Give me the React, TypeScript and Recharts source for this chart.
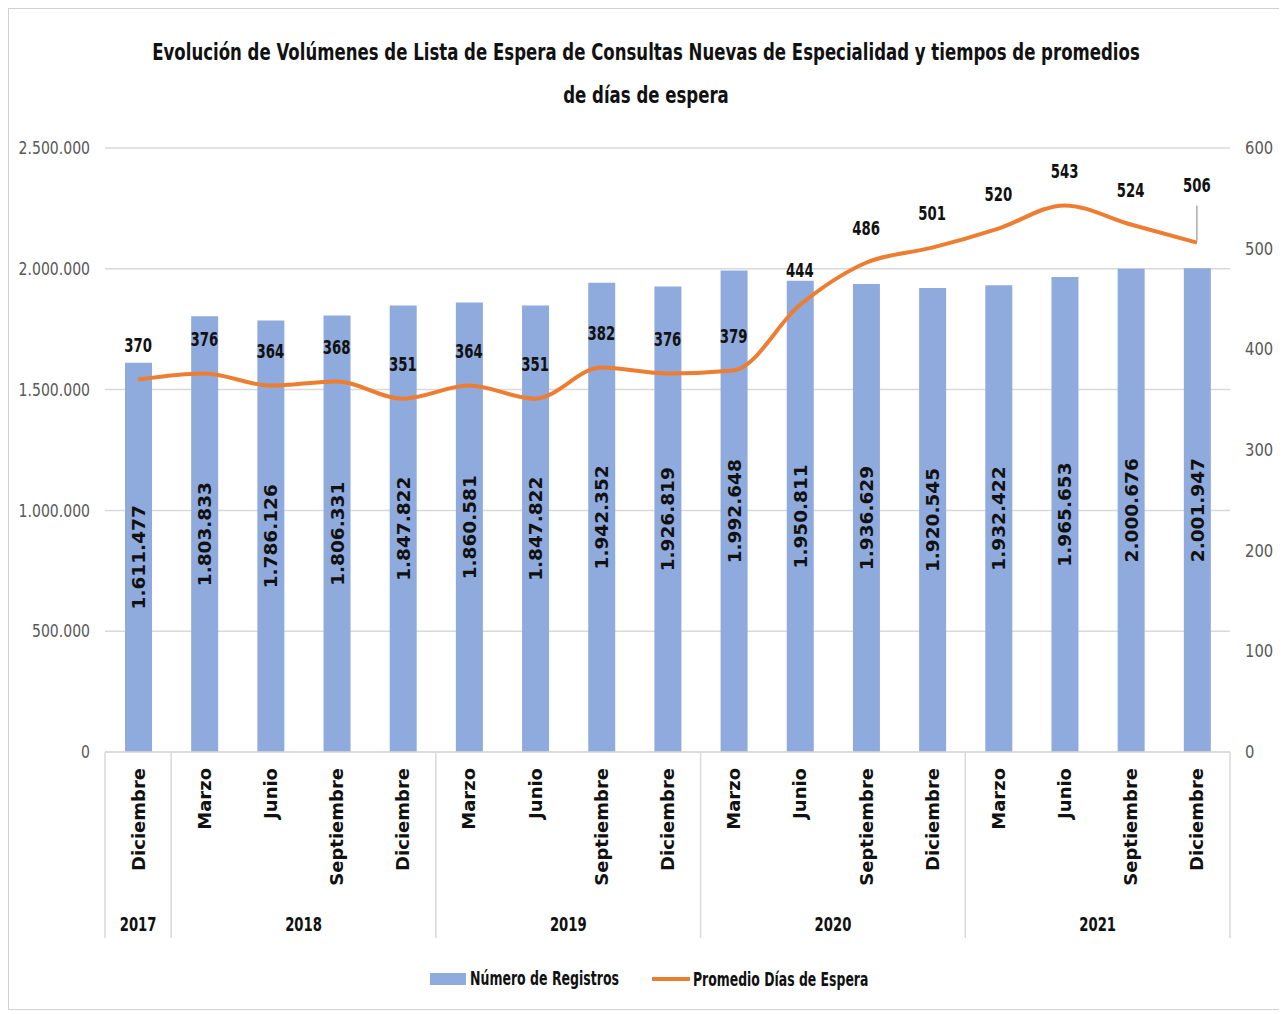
import React from 'react';
import { ComposedChart, Bar, Line, XAxis, YAxis, CartesianGrid, Legend, LabelList } from 'recharts';

// Categorías (eje X de dos niveles)
const months = [
  'Diciembre',
  'Marzo', 'Junio', 'Septiembre', 'Diciembre',
  'Marzo', 'Junio', 'Septiembre', 'Diciembre',
  'Marzo', 'Junio', 'Septiembre', 'Diciembre',
  'Marzo', 'Junio', 'Septiembre', 'Diciembre',
];
const years = [
  '2017',
  '2018', '2018', '2018', '2018',
  '2019', '2019', '2019', '2019',
  '2020', '2020', '2020', '2020',
  '2021', '2021', '2021', '2021',
];

// Series
const registros = [
  1611477, 1803833, 1786126, 1806331, 1847822, 1860581, 1847822, 1942352, 1926819,
  1992648, 1950811, 1936629, 1920545, 1932422, 1965653, 2000676, 2001947,
];
const promedio = [370, 376, 364, 368, 351, 364, 351, 382, 376, 379, 444, 486, 501, 520, 543, 524, 506];

// Ticks
const leftTicks = [0, 500000, 1000000, 1500000, 2000000, 2500000];
const rightTicks = [0, 100, 200, 300, 400, 500, 600];

const titleLines = [
  'Evolución de Volúmenes de Lista de Espera de Consultas Nuevas de Especialidad y tiempos de promedios',
  'de días de espera',
];

const data = months.map((m, i) => ({
  key: `${years[i]}-${i}`,
  month: m,
  year: years[i],
  registros: registros[i],
  promedio: promedio[i],
}));

const BLUE = '#8FAADC';
const ORANGE = '#ED7D31';
const GRID = '#D9D9D9';
const FONT = "'DejaVu Sans', Verdana, sans-serif";

const fmt = (n: number) => String(n).replace(/\B(?=(\d{3})+(?!\d))/g, '.');

// texto horizontal "angosto" (el original usa una fuente condensada)
const Narrow = ({ x, y, sx, anchor = 'middle', size, bold = true, fill = '#111', children }: any) => (
  <text
    transform={`translate(${x},${y}) scale(${sx},1)`}
    textAnchor={anchor}
    dominantBaseline="central"
    fontFamily={FONT}
    fontWeight={bold ? 'bold' : 'normal'}
    fontSize={size}
    fill={fill}
  >
    {children}
  </text>
);

const MonthTick = (props: any) => {
  const { x, y, payload } = props;
  const i = payload.index;
  const half = payload.offset || 33;
  const els: any[] = [];
  els.push(
    <text
      key="m"
      transform={`translate(${x},${y + 16}) rotate(-90)`}
      textAnchor="end"
      dominantBaseline="central"
      fontFamily={FONT}
      fontWeight="bold"
      fontSize={18}
      fill="#111"
    >
      {months[i]}
    </text>
  );
  if (i === 0 || years[i] !== years[i - 1]) {
    const n = years.filter((yy) => yy === years[i]).length;
    els.push(<line key="s" x1={x - half} x2={x - half} y1={y} y2={y + 186} stroke={GRID} strokeWidth={1.5} />);
    els.push(
      <Narrow key="y" x={x - half + n * half} y={y + 172} sx={0.66} size={20}>
        {years[i]}
      </Narrow>
    );
  }
  if (i === months.length - 1) {
    els.push(<line key="e" x1={x + half} x2={x + half} y1={y} y2={y + 186} stroke={GRID} strokeWidth={1.5} />);
  }
  return <g>{els}</g>;
};

const LeftTick = (props: any) => (
  <Narrow x={props.x} y={props.y} sx={0.78} anchor="end" size={18} bold={false} fill="#595959">
    {fmt(props.payload.value)}
  </Narrow>
);

const RightTick = (props: any) => (
  <Narrow x={props.x} y={props.y} sx={0.82} anchor="start" size={18} bold={false} fill="#595959">
    {props.payload.value}
  </Narrow>
);

const BarValueLabel = (props: any) => {
  const { x, y, width, height, value } = props;
  const cx = x + width / 2;
  const cy = y + height / 2;
  return (
    <text
      transform={`translate(${cx},${cy}) rotate(-90)`}
      textAnchor="middle"
      dominantBaseline="central"
      fontFamily={FONT}
      fontWeight="bold"
      fontSize={18.5}
      fill="#111"
    >
      {fmt(value)}
    </text>
  );
};

const LineValueLabel = (props: any) => {
  const { x, y, value, index } = props;
  if (index === promedio.length - 1) {
    // etiqueta desplazada con línea guía
    return (
      <g>
        <line x1={x} x2={x} y1={y - 37} y2={y - 2} stroke="#7f7f7f" strokeWidth={1} />
        <Narrow x={x} y={y - 57} sx={0.7} size={19}>
          {value}
        </Narrow>
      </g>
    );
  }
  return (
    <Narrow x={x} y={y - 34} sx={0.7} size={19}>
      {value}
    </Narrow>
  );
};

const renderLegend = () => (
  <svg width={1273} height={60} style={{ display: 'block' }}>
    <g transform="translate(636.5,30)">
      <rect x={-215.5} y={-6} width={36} height={12} fill={BLUE} />
      <Narrow x={-175.5} y={0} sx={0.66} anchor="start" size={19}>
        Número de Registros
      </Narrow>
      <rect x={6.5} y={-2} width={38} height={4} fill={ORANGE} />
      <Narrow x={47.5} y={0} sx={0.655} anchor="start" size={19}>
        Promedio Días de Espera
      </Narrow>
    </g>
  </svg>
);

export default function App() {
  return (
    <div style={{ position: 'relative', width: 1273, height: 1000, border: '1px solid #D0D0D0', background: '#fff' }}>
      {titleLines.map((t, i) => (
        <div
          key={i}
          style={{
            position: 'absolute',
            top: 22 + i * 43,
            left: '50%',
            width: 'max-content',
            transform: 'translateX(-50%) scaleX(0.72)',
            fontFamily: FONT,
            fontWeight: 'bold',
            fontSize: 23,
            lineHeight: '43px',
            color: '#111',
            whiteSpace: 'nowrap',
          }}
        >
          {t}
        </div>
      ))}
      <ComposedChart width={1273} height={1000} data={data} margin={{ top: 139, right: 0, bottom: 0, left: 0 }}>
        <CartesianGrid yAxisId="left" vertical={false} stroke={GRID} strokeWidth={1.5} />
        <XAxis
          dataKey="key"
          interval={0}
          height={197}
          tickLine={false}
          tickSize={0}
          tickMargin={0}
          axisLine={{ stroke: GRID, strokeWidth: 1.5 }}
          tick={MonthTick}
        />
        <YAxis
          yAxisId="left"
          width={96}
          domain={[0, 2500000]}
          ticks={leftTicks}
          axisLine={false}
          tickLine={false}
          tickSize={0}
          tickMargin={15}
          tick={LeftTick}
        />
        <YAxis
          yAxisId="right"
          orientation="right"
          width={52}
          domain={[0, 600]}
          ticks={rightTicks}
          axisLine={false}
          tickLine={false}
          tickSize={0}
          tickMargin={15}
          tick={RightTick}
        />
        <Legend verticalAlign="bottom" height={60} content={renderLegend} />
        <Bar yAxisId="left" dataKey="registros" name="Número de Registros" fill={BLUE} barSize={27} isAnimationActive={false}>
          <LabelList dataKey="registros" content={BarValueLabel} />
        </Bar>
        <Line
          yAxisId="right"
          type="monotone"
          dataKey="promedio"
          name="Promedio Días de Espera"
          stroke={ORANGE}
          strokeWidth={4}
          dot={false}
          isAnimationActive={false}
        >
          <LabelList dataKey="promedio" content={LineValueLabel} />
        </Line>
      </ComposedChart>
    </div>
  );
}
